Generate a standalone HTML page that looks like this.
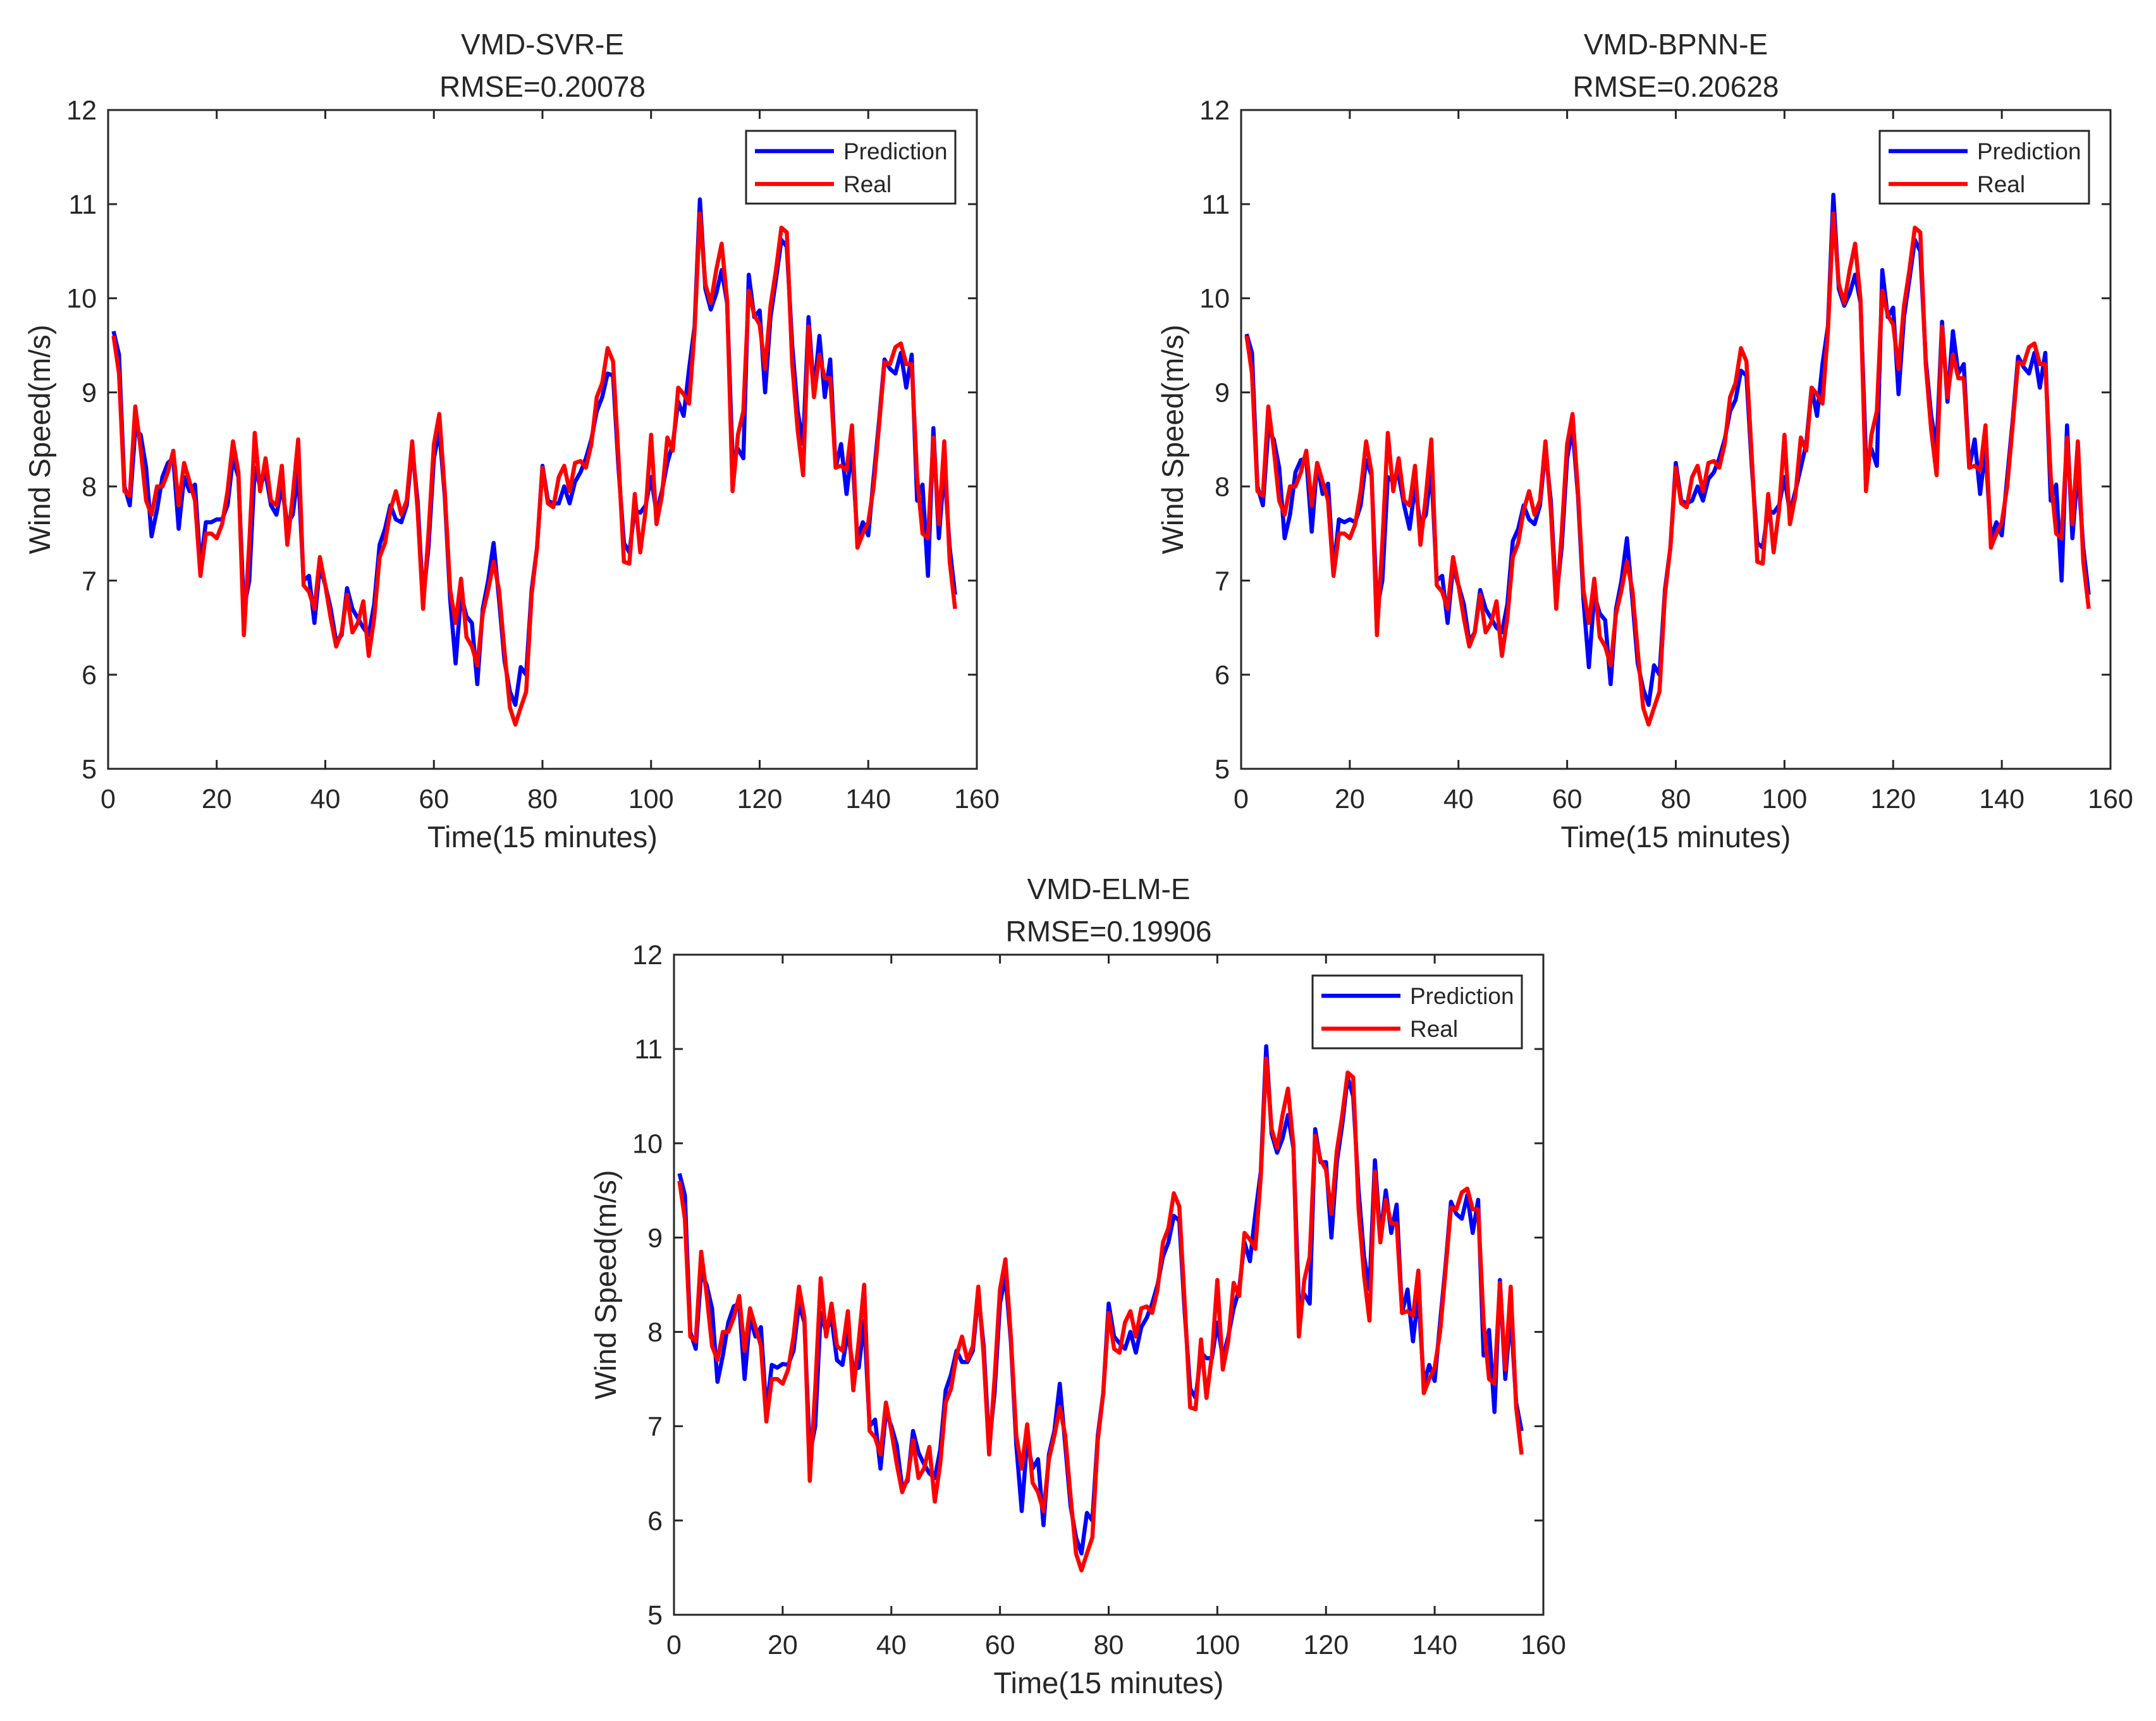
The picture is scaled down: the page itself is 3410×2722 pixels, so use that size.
<!DOCTYPE html>
<html><head><meta charset="utf-8">
<style>
html,body{margin:0;padding:0;background:#fff;}
svg{display:block;}
text{font-family:"Liberation Sans",sans-serif;fill:#262626;}
</style></head>
<body>
<svg id="fig" width="3410" height="2722" viewBox="0 0 3410 2722" xmlns="http://www.w3.org/2000/svg"></svg>
<script>
const yTicks = [5,6,7,8,9,10,11,12];
const xTicks = [0,20,40,60,80,100,120,140,160];
const titles = ["VMD-SVR-E","VMD-BPNN-E","VMD-ELM-E"];
const rmseLabels = ["RMSE=0.20078","RMSE=0.20628","RMSE=0.19906"];
const real = [9.6,9.2,7.95,7.9,8.85,8.4,7.85,7.7,8.0,8.0,8.15,8.38,7.8,8.25,8.05,7.85,7.05,7.5,7.5,7.45,7.6,7.95,8.48,8.15,6.42,7.4,8.57,7.95,8.3,7.85,7.8,8.22,7.38,7.9,8.5,6.95,6.88,6.7,7.25,6.95,6.6,6.3,6.45,6.85,6.45,6.55,6.78,6.2,6.6,7.25,7.4,7.75,7.95,7.7,7.85,8.48,7.75,6.7,7.5,8.45,8.77,7.95,6.9,6.55,7.02,6.4,6.3,6.1,6.65,6.9,7.2,6.9,6.25,5.65,5.47,5.65,5.82,6.85,7.35,8.2,7.82,7.78,8.1,8.22,7.95,8.25,8.27,8.2,8.45,8.95,9.1,9.47,9.33,8.3,7.2,7.18,7.92,7.3,7.75,8.55,7.6,7.9,8.52,8.38,9.05,8.98,8.88,9.65,10.9,10.15,9.95,10.3,10.58,9.98,7.95,8.55,8.8,10.08,9.82,9.72,9.25,9.92,10.3,10.75,10.7,9.3,8.6,8.12,9.7,8.95,9.4,9.15,9.15,8.2,8.22,8.17,8.65,7.35,7.5,7.62,8.0,8.65,9.32,9.3,9.48,9.52,9.3,9.3,8.1,7.5,7.45,8.52,7.6,8.48,7.2,6.7];
const predSVR = [9.65,9.4,8.0,7.8,8.6,8.55,8.2,7.47,7.75,8.1,8.25,8.3,7.55,8.1,7.95,8.02,7.15,7.62,7.62,7.65,7.65,7.8,8.3,8.1,6.7,7.0,8.2,8.0,8.15,7.8,7.7,8.0,7.6,7.7,8.15,7.0,7.05,6.55,7.15,6.95,6.7,6.35,6.42,6.92,6.7,6.6,6.5,6.42,6.75,7.38,7.55,7.8,7.65,7.62,7.8,8.4,7.85,6.8,7.35,8.3,8.6,7.9,6.8,6.12,6.85,6.62,6.55,5.9,6.7,7.0,7.4,6.8,6.15,5.82,5.68,6.08,6.0,6.9,7.35,8.22,7.85,7.82,7.82,8.0,7.82,8.05,8.15,8.3,8.5,8.8,8.95,9.2,9.18,8.2,7.4,7.3,7.75,7.72,7.8,8.1,7.72,7.95,8.25,8.45,8.9,8.75,9.25,9.7,11.05,10.1,9.88,10.05,10.3,9.95,8.3,8.4,8.3,10.25,9.8,9.87,9.0,9.8,10.2,10.62,10.55,9.5,8.8,8.45,9.8,9.0,9.6,8.95,9.35,8.2,8.45,7.92,8.4,7.45,7.62,7.48,8.1,8.7,9.35,9.25,9.2,9.42,9.05,9.4,7.85,8.02,7.05,8.62,7.45,8.2,7.35,6.85];
const predBPNN = [9.62,9.42,8.0,7.8,8.6,8.5,8.2,7.45,7.7,8.15,8.28,8.3,7.52,8.25,7.92,8.03,7.1,7.65,7.62,7.65,7.62,7.8,8.28,8.12,6.7,7.0,8.1,8.05,8.12,7.8,7.55,8.0,7.6,7.7,8.2,7.0,7.05,6.55,7.15,6.95,6.75,6.35,6.45,6.9,6.7,6.6,6.5,6.45,6.75,7.42,7.55,7.8,7.65,7.6,7.8,8.4,7.85,6.8,7.35,8.3,8.62,7.9,6.8,6.08,6.85,6.65,6.58,5.9,6.7,7.0,7.45,6.8,6.12,5.85,5.68,6.1,6.0,6.9,7.35,8.25,7.85,7.82,7.85,8.0,7.85,8.08,8.15,8.3,8.5,8.8,8.92,9.23,9.18,8.2,7.4,7.35,7.75,7.72,7.8,8.1,7.72,7.95,8.2,8.45,9.05,8.75,9.3,9.7,11.1,10.1,9.92,10.05,10.25,9.95,8.3,8.4,8.22,10.3,9.8,9.9,8.98,9.8,10.2,10.62,10.5,9.35,8.75,8.42,9.75,8.9,9.65,9.2,9.3,8.2,8.5,7.92,8.4,7.45,7.62,7.48,8.1,8.7,9.38,9.27,9.2,9.42,9.05,9.42,7.85,8.02,7.0,8.65,7.45,8.2,7.35,6.85];
const predELM = [9.68,9.45,8.0,7.82,8.62,8.5,8.25,7.47,7.75,8.1,8.27,8.3,7.5,8.15,7.95,8.05,7.15,7.65,7.62,7.66,7.65,7.8,8.3,8.1,6.7,7.0,8.2,8.0,8.15,7.7,7.65,8.0,7.6,7.62,8.12,7.0,7.07,6.55,7.15,7.0,6.8,6.35,6.42,6.95,6.72,6.6,6.5,6.45,6.75,7.38,7.55,7.8,7.68,7.68,7.8,8.4,7.85,6.8,7.35,8.3,8.6,7.9,6.8,6.1,6.85,6.55,6.65,5.95,6.7,6.95,7.45,6.8,6.15,5.82,5.65,6.08,6.0,6.9,7.35,8.3,7.95,7.88,7.82,8.0,7.78,8.05,8.15,8.3,8.5,8.8,8.95,9.23,9.18,8.2,7.4,7.3,7.78,7.72,7.72,8.1,7.72,7.95,8.25,8.45,8.95,8.75,9.25,9.7,11.03,10.1,9.9,10.05,10.3,9.95,8.3,8.4,8.3,10.15,9.8,9.8,9.0,9.8,10.2,10.7,10.5,9.5,8.8,8.45,9.82,9.0,9.5,9.05,9.35,8.2,8.45,7.9,8.4,7.45,7.65,7.48,8.1,8.7,9.38,9.25,9.2,9.45,9.05,9.4,7.75,8.02,7.15,8.55,7.5,8.2,7.25,6.95];
const predictions = [predSVR, predBPNN, predELM];

const NS = "http://www.w3.org/2000/svg";
const fig = document.getElementById('fig');
const panels = [
  {L:171,R:1545,T:174,B:1216},
  {L:1963,R:3338,T:174,B:1216},
  {L:1066,R:2441,T:1510,B:2554}
];
function mk(tag, attrs, parent){
  const e = document.createElementNS(NS, tag);
  for (const k in attrs) e.setAttribute(k, attrs[k]);
  (parent||fig).appendChild(e);
  return e;
}
panels.forEach((p, i) => {
  const g = mk('g', {});
  
  
  const xs = v => p.L + (v - 0) / 160 * (p.R - p.L);
  const ys = v => p.B - (v - 5) / 7 * (p.B - p.T);
  const cx = (p.L + p.R) / 2;
  let t = mk('text', {x:cx, y:p.T-88, 'font-size':46, 'text-anchor':'middle'}, g);
  t.textContent = titles[i];
  
  
  t = mk('text', {x:cx, y:p.T-21, 'font-size':46, 'text-anchor':'middle'}, g);
  t.textContent = rmseLabels[i];
  
  
  yTicks.forEach(v => {
    const y = ys(v);
    const tk = mk('path', {d:`M${p.L} ${y}h14M${p.R} ${y}h-14`, stroke:'#262626', 'stroke-width':3}, g);
    
    
    const lb = mk('text', {x:p.L-18, y:y+15, 'font-size':43, 'text-anchor':'end'}, g);
    lb.textContent = v;
    
    
  });
  xTicks.forEach(v => {
    const x = xs(v);
    const tk = mk('path', {d:`M${x} ${p.B}v-14M${x} ${p.T}v14`, stroke:'#262626', 'stroke-width':3}, g);
    
    
    const lb = mk('text', {x:x, y:p.B+62, 'font-size':43, 'text-anchor':'middle'}, g);
    lb.textContent = v;
    
    
  });
  t = mk('text', {x:cx, y:p.B+124, 'font-size':47, 'text-anchor':'middle'}, g);
  t.textContent = 'Time(15 minutes)';
  
  
  const ly = (p.T + p.B) / 2;
  t = mk('text', {x:p.L-92, y:ly, 'font-size':47, 'text-anchor':'middle', transform:`rotate(-90 ${p.L-92} ${ly})`}, g);
  t.textContent = 'Wind Speed(m/s)';
  
  
  const pts = arr => arr.map((v, k) => `${xs(k+1).toFixed(1)},${ys(v).toFixed(1)}`).join(' ');
  const pl = mk('polyline', {points:pts(predictions[i]), fill:'none', stroke:'#0000ff', 'stroke-width':6.5, 'stroke-linejoin':'round'}, g);
  
  
  const rl = mk('polyline', {points:pts(real), fill:'none', stroke:'#ff0000', 'stroke-width':6.5, 'stroke-linejoin':'round'}, g);
  
  
  const fr = mk('rect', {x:p.L, y:p.T, width:p.R-p.L, height:p.B-p.T, fill:'none', stroke:'#262626', 'stroke-width':3}, g);
  
  
  const lg = mk('g', {}, g);
  
  
  const bx = p.R - 365, by = p.T + 33;
  mk('rect', {x:bx, y:by, width:331, height:115, fill:'#fff', stroke:'#262626', 'stroke-width':3}, lg);
  const e1 = mk('g', {}, lg);
  
  
  mk('line', {x1:bx+14, x2:bx+139, y1:by+32, y2:by+32, stroke:'#0000ff', 'stroke-width':6.5}, e1);
  let lt = mk('text', {x:bx+154, y:by+45, 'font-size':37}, e1);
  lt.textContent = 'Prediction';
  const e2 = mk('g', {}, lg);
  
  
  mk('line', {x1:bx+14, x2:bx+139, y1:by+84, y2:by+84, stroke:'#ff0000', 'stroke-width':6.5}, e2);
  lt = mk('text', {x:bx+154, y:by+97, 'font-size':37}, e2);
  lt.textContent = 'Real';
});
</script>
</body></html>
